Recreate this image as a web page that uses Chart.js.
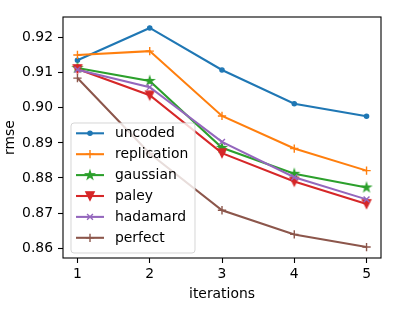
<!DOCTYPE html>
<html>
<head>
<meta charset="utf-8">
<script src="https://cdn.jsdelivr.net/npm/chart.js@4"></script>
<style>
html,body{margin:0;padding:0;background:#fff;}
canvas{display:block;}
</style>
</head>
<body>
<canvas id="c" width="396" height="312"></canvas>
<script>
const iterations = [1, 2, 3, 4, 5];
const uncoded     = [0.9136, 0.9228, 0.9108, 0.9012, 0.8976];
const replication = [0.9151, 0.9162, 0.8977, 0.8884, 0.8821];
const gaussian    = [0.9114, 0.9077, 0.8886, 0.8812, 0.8773];
const paley       = [0.9111, 0.9036, 0.8871, 0.8790, 0.8726];
const hadamard    = [0.9109, 0.9059, 0.8903, 0.8802, 0.8739];
const perfect     = [0.9085, 0.8870, 0.8708, 0.8639, 0.8603];
const seriesNames = ['uncoded', 'replication', 'gaussian', 'paley', 'hadamard', 'perfect'];
const xTicks = [1, 2, 3, 4, 5];
const yTicks = [0.86, 0.87, 0.88, 0.89, 0.90, 0.91, 0.92];

const FONT = 'DejaVu Sans';
const FS = 13.9;
const MS = 8.3;     // marker size px
const MEW = 1.39;   // marker edge width
const LW = 2.08;

function makeMarker(kind, color) {
  const c = document.createElement('canvas');
  c.width = 16; c.height = 16;
  const g = c.getContext('2d');
  g.translate(8, 8);
  g.fillStyle = color; g.strokeStyle = color; g.lineWidth = MEW; g.lineJoin = 'miter';
  const r = MS / 2;
  g.beginPath();
  if (kind === 'star') {
    const ri = r * 0.381966;
    for (let i = 0; i < 10; i++) {
      const rr = i % 2 === 0 ? r : ri;
      const a = -Math.PI / 2 + i * Math.PI / 5;
      const px = rr * Math.cos(a), py = rr * Math.sin(a);
      if (i === 0) g.moveTo(px, py); else g.lineTo(px, py);
    }
  } else if (kind === 'tridown') {
    g.moveTo(0, r); g.lineTo(-r, -r); g.lineTo(r, -r);
  }
  g.closePath(); g.fill(); g.stroke();
  return c;
}

const colors = ['#1f77b4', '#ff7f0e', '#2ca02c', '#d62728', '#9467bd', '#8c564b'];
const values = [uncoded, replication, gaussian, paley, hadamard, perfect];
const styles = [
  {pointStyle: 'circle', pointRadius: 2.1, pointBorderWidth: MEW},
  {pointStyle: 'cross', pointRadius: MS / 2, pointBorderWidth: MEW},
  {pointStyle: makeMarker('star', colors[2]), pointRadius: 5},
  {pointStyle: makeMarker('tridown', colors[3]), pointRadius: 5},
  {pointStyle: 'crossRot', pointRadius: MS / 2, pointBorderWidth: MEW},
  {pointStyle: 'cross', pointRadius: MS / 2, pointBorderWidth: MEW},
];

const datasets = values.map((v, i) => Object.assign({
  label: seriesNames[i],
  data: v.map((y, j) => ({x: iterations[j], y: y})),
  borderColor: colors[i],
  backgroundColor: colors[i],
  pointBackgroundColor: colors[i],
  pointBorderColor: colors[i],
  borderWidth: LW,
  tension: 0,
  fill: false,
  order: values.length - 1 - i,
  clip: false,
}, styles[i]));

const allY = values.flat();
const yMinD = Math.min(...allY), yMaxD = Math.max(...allY);
const yPad = (yMaxD - yMinD) * 0.05;
const xPad = (Math.max(...iterations) - Math.min(...iterations)) * 0.05;

const framePlugin = {
  id: 'frameLegend',
  afterDatasetsDraw(chart) {
    const ctx = chart.ctx;
    const a = chart.chartArea;
    // legend
    const bx = 71, by = 123, bw = 124, bh = 130, rad = 3;
    ctx.save();
    ctx.globalAlpha = 0.8;
    ctx.beginPath();
    ctx.moveTo(bx + rad, by);
    ctx.arcTo(bx + bw, by, bx + bw, by + bh, rad);
    ctx.arcTo(bx + bw, by + bh, bx, by + bh, rad);
    ctx.arcTo(bx, by + bh, bx, by, rad);
    ctx.arcTo(bx, by, bx + bw, by, rad);
    ctx.closePath();
    ctx.fillStyle = '#ffffff';
    ctx.fill();
    ctx.lineWidth = 1;
    ctx.strokeStyle = '#cccccc';
    ctx.stroke();
    ctx.restore();
    ctx.save();
    ctx.font = FS + 'px "' + FONT + '"';
    ctx.textBaseline = 'middle';
    ctx.textAlign = 'left';
    ctx.fillStyle = '#000';
    for (let i = 0; i < datasets.length; i++) {
      const yy = 133.3 + i * 20.9;
      ctx.beginPath();
      ctx.strokeStyle = colors[i];
      ctx.lineWidth = LW;
      ctx.moveTo(76, yy); ctx.lineTo(104, yy);
      ctx.stroke();
      const st = styles[i];
      ctx.fillStyle = colors[i];
      ctx.strokeStyle = colors[i];
      ctx.lineWidth = st.pointBorderWidth || 1;
      Chart.helpers.drawPoint(ctx, {pointStyle: st.pointStyle, radius: st.pointRadius, rotation: 0, borderWidth: st.pointBorderWidth || 0}, 90, yy);
      ctx.fillStyle = '#000';
      ctx.fillText(seriesNames[i], 115, yy + 0.5);
    }
    ctx.restore();
    // frame
    ctx.save();
    ctx.strokeStyle = '#000';
    ctx.lineWidth = 1.1;
    ctx.strokeRect(a.left, a.top, a.right - a.left, a.bottom - a.top);
    ctx.restore();
  }
};

Chart.defaults.font.family = FONT;
Chart.defaults.font.size = FS;
Chart.defaults.color = '#000';

new Chart(document.getElementById('c'), {
  type: 'line',
  data: {datasets},
  options: {
    responsive: false,
    animation: false,
    devicePixelRatio: 1,
    layout: {padding: {left: 0, right: 15, top: 17, bottom: 0}},
    plugins: {legend: {display: false}, tooltip: {enabled: false}},
    scales: {
      x: {
        type: 'linear',
        min: Math.min(...iterations) - xPad,
        max: Math.max(...iterations) + xPad,
        afterBuildTicks: s => { s.ticks = xTicks.map(v => ({value: v})); },
        afterFit: s => { s.height = 54; },
        ticks: {padding: 3, maxRotation: 0, callback: v => String(v), color: '#000'},
        grid: {display: true, drawOnChartArea: false, drawTicks: true, tickLength: 5, tickWidth: 1.1, tickColor: '#000'},
        border: {display: false},
        title: {display: true, text: 'iterations', padding: {top: 0, bottom: 9.6}, color: '#000'},
      },
      y: {
        type: 'linear',
        min: yMinD - yPad,
        max: yMaxD + yPad,
        afterBuildTicks: s => { s.ticks = yTicks.map(v => ({value: v})); },
        afterFit: s => { s.width = 63; },
        ticks: {padding: 5, callback: v => Number(v).toFixed(2), color: '#000'},
        grid: {display: true, drawOnChartArea: false, drawTicks: true, tickLength: 5, tickWidth: 1.1, tickColor: '#000'},
        border: {display: false},
        title: {display: true, text: 'rmse', padding: {top: 2, bottom: 0}, color: '#000'},
      }
    }
  },
  plugins: [framePlugin]
});
</script>
</body>
</html>
